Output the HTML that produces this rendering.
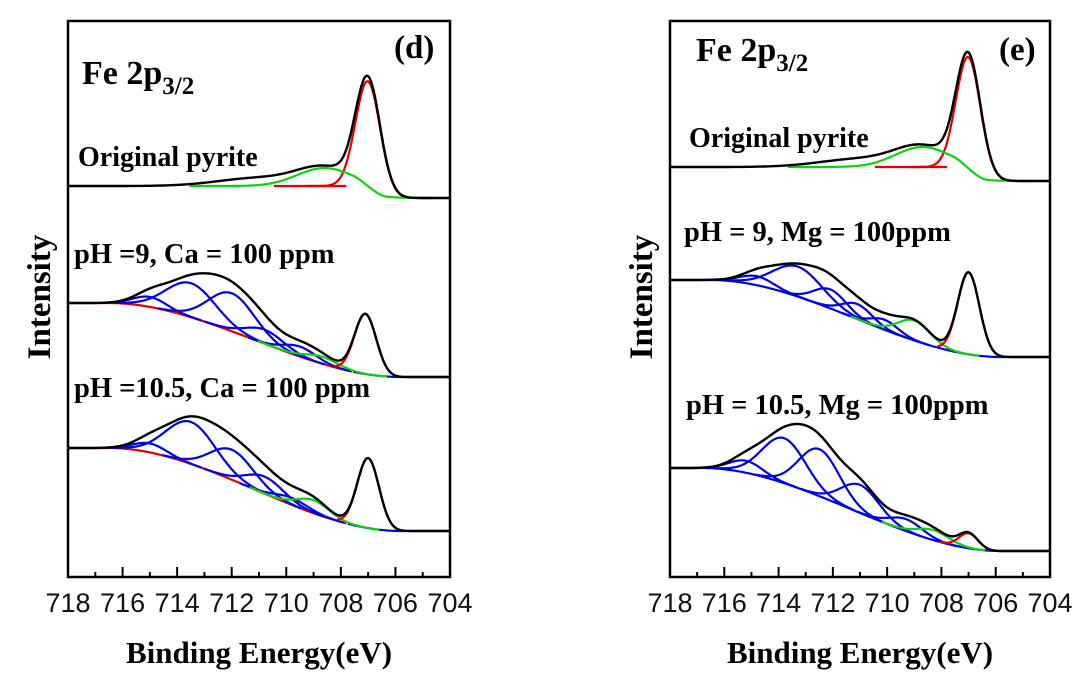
<!DOCTYPE html>
<html><head><meta charset="utf-8"><style>
body{margin:0;background:#fff;}
svg{display:block}
.t{font-family:"Liberation Serif",serif;font-weight:bold;fill:#000}
.n{font-family:"Liberation Sans",sans-serif;font-size:27px;fill:#111}
</style></head><body>
<svg id="s" width="1084" height="680" viewBox="0 0 1084 680" xmlns="http://www.w3.org/2000/svg">
<rect width="1084" height="680" fill="#fff"/>
<g id="g"></g>
<text class="t" x="82" y="84" font-size="34">Fe 2p<tspan font-size="25" dy="10">3/2</tspan></text>
<text class="t" x="394" y="58" font-size="33">(d)</text>
<text class="t" x="78" y="166" font-size="28">Original pyrite</text>
<text class="t" x="74" y="263" font-size="28.5">pH =9, Ca = 100 ppm</text>
<text class="t" x="74" y="397" font-size="28.5">pH =10.5, Ca = 100 ppm</text>
<text class="t" x="0" y="0" font-size="33" text-anchor="middle" transform="translate(50,297) rotate(-90)">Intensity</text>
<text class="t" x="259" y="663" font-size="31" text-anchor="middle">Binding Energy(eV)</text>
<text class="t" x="696" y="61" font-size="34">Fe 2p<tspan font-size="25" dy="10">3/2</tspan></text>
<text class="t" x="999" y="60" font-size="33">(e)</text>
<text class="t" x="689" y="147" font-size="28">Original pyrite</text>
<text class="t" x="684" y="241" font-size="28.5">pH = 9, Mg = 100ppm</text>
<text class="t" x="686" y="414" font-size="28.5">pH = 10.5, Mg = 100ppm</text>
<text class="t" x="0" y="0" font-size="33" text-anchor="middle" transform="translate(652,297) rotate(-90)">Intensity</text>
<text class="t" x="860" y="663" font-size="31" text-anchor="middle">Binding Energy(eV)</text>
</svg>
<script>
const g=document.getElementById('g');const NS='http://www.w3.org/2000/svg';
function el(t,a){const e=document.createElementNS(NS,t);for(const k in a)e.setAttribute(k,a[k]);g.appendChild(e);return e;}
function ss(t){t=Math.max(0,Math.min(1,t));return t*t*(3-2*t);}
function panel(L,R,T,B,specs){
  const k=(R-L)/14;const X=E=>L+(718-E)*k;
  specs.forEach(sp=>{
    const bg=E=>sp.yl+(sp.yr-sp.yl)*ss((sp.e1-E)/(sp.e1-sp.e0));
    const G=(c,E)=>c[1]*Math.exp(-0.5*Math.pow((E-c[0])/c[2],2));
    const pts=[];for(let E=718;E>=704-1e-9;E-=0.05)pts.push(E);
    const path=(f,pp)=>'M'+(pp||pts).map(E=>X(E).toFixed(1)+','+f(E).toFixed(1)).join('L');
    el('path',{d:path(bg,pts.filter(E=>E>=sp.bgs0&&E<=sp.bgs1)),fill:'none',stroke:sp.bgc||'#e00000','stroke-width':2.2});
    if(sp.bgc2){el('path',{d:path(bg,pts.filter(E=>E<=sp.bgs)),fill:'none',stroke:sp.bgc2,'stroke-width':2.2});}
    sp.c.forEach(c=>{if(!c[3])return;
      const w=c[4]||3.2;
      const p2=pts.filter(E=>Math.abs(E-c[0])<=w*c[2]);
      el('path',{d:path(E=>bg(E)-G(c,E),p2),fill:'none',stroke:c[3],'stroke-width':2.2});});
    el('path',{d:path(E=>bg(E)-sp.c.reduce((s,c)=>s+G(c,E),0)),fill:'none',stroke:'#000','stroke-width':2.4});
  });
  el('rect',{x:L,y:T,width:R-L,height:B-T,fill:'none',stroke:'#000','stroke-width':2.5});
  for(let E=717;E>=705;E--){const x=X(E);const maj=E%2==0;
    el('line',{x1:x,y1:B,x2:x,y2:B-(maj?10:5),stroke:'#000','stroke-width':2});}
  for(let E=718;E>=704;E-=2){const t=el('text',{x:X(E),y:612,'text-anchor':'middle',class:'n'});t.textContent=E;}
}
const R='#e00000',Gr='#10d010',Bl='#0000e0';
panel(68,450,21,577,[
 {yl:186,yr:198,e1:707.6,e0:706.3,bgs0:707.8,bgs1:710.5,c:[[707.0,110,0.45,R,5],[708.6,18,1.0,Gr,5],[711,8,1.5,null]]},
 {yl:303,yr:377,e1:716.5,e0:705.8,bgs0:707.6,bgs1:718,bgs:707.6,bgc2:Bl,c:[[715,10,0.6,Bl],[713.5,34,0.9,Bl],[712,38,0.85,Bl],[710.8,14,0.7,Bl],[709.5,10,0.6,Bl],[708.7,7,0.6,Gr,4],[707.1,60,0.4,R,3]]},
 {yl:448,yr:531,e1:716.5,e0:705.8,bgs0:707.8,bgs1:718,bgs:707.8,bgc2:Bl,c:[[715,9,0.6,Bl],[713.5,42,0.9,Bl],[712,30,0.8,Bl],[710.8,17,0.7,Bl],[709.8,7,0.6,Bl],[709,13,0.6,Gr,4],[707.0,70,0.4,R,3]]}
]);
panel(670,1050,21,577,[
 {yl:167,yr:181,e1:707.6,e0:706.3,bgs0:707.8,bgs1:710.5,c:[[707.0,116,0.45,R,5],[708.7,20,1.0,Gr,5],[711,8,1.5,null]]},
 {yl:280,yr:357,e1:716.5,e0:705.8,bgs0:0,bgs1:718,bgc:Bl,c:[[714.8,9,0.6,Bl],[713.3,30,0.9,Bl],[712.1,19,0.6,Bl],[711.1,15,0.55,Bl],[710.1,10,0.5,Bl],[709.0,20,0.6,Gr,4],[707.0,82,0.4,R,3]]},
 {yl:468,yr:551,e1:716.8,e0:705.8,bgs0:0,bgs1:718,bgc:Bl,c:[[715.2,12,0.6,Bl],[713.8,45,0.8,Bl],[712.5,47,0.75,Bl],[711.0,28,0.7,Bl],[709.3,12,0.6,Bl],[708.3,10,0.6,Gr],[707.0,15,0.35,R]]}
]);
</script>
</body></html>
